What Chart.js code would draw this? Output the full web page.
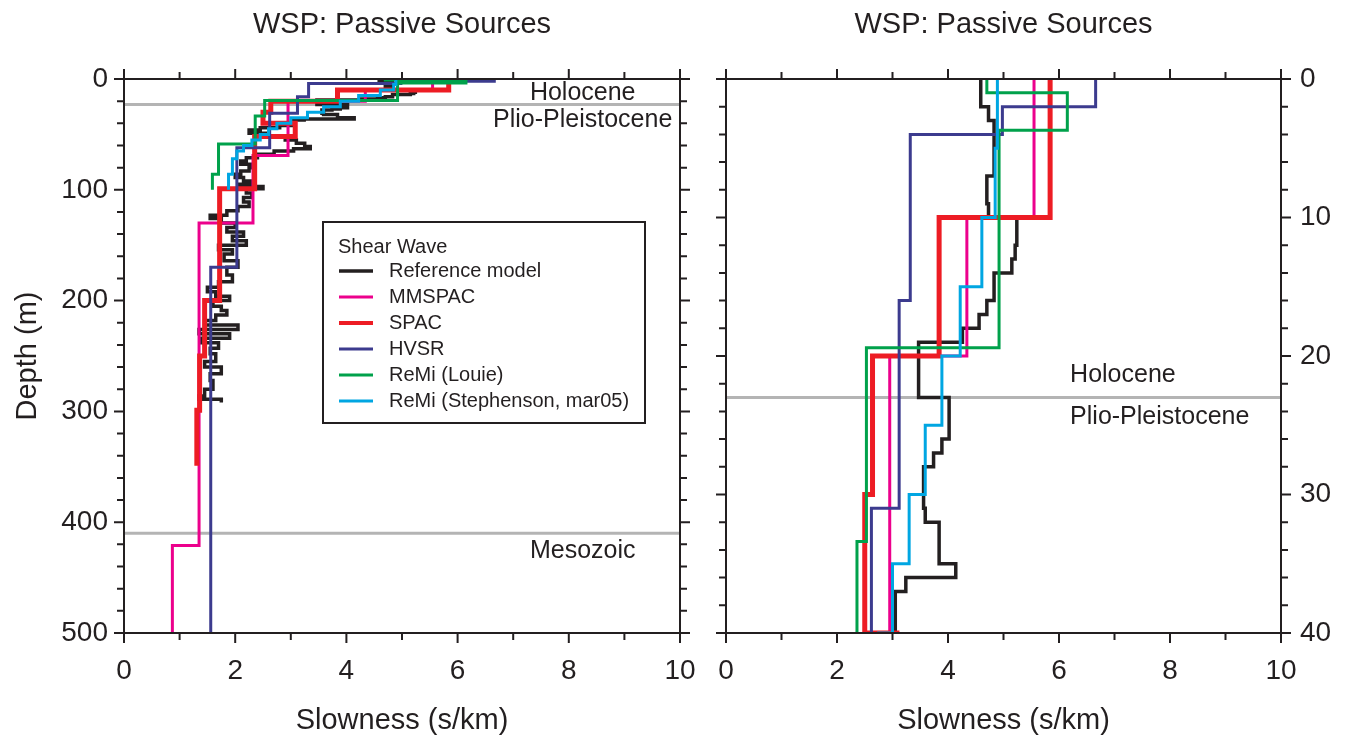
<!DOCTYPE html>
<html>
<head>
<meta charset="utf-8">
<title>WSP: Passive Sources</title>
<script src="https://cdn.jsdelivr.net/npm/chart.js@4.4.0/dist/chart.umd.min.js"></script>
<style>
  html, body { margin: 0; padding: 0; background: #fff; }
  #wrap { position: relative; width: 1347px; height: 745px; overflow: hidden; }
  #leftChart { position: absolute; left: 0; top: 0; }
  #rightChart { position: absolute; left: 700px; top: 0; }
</style>
</head>
<body>
<div id="wrap">
  <canvas id="leftChart" width="700" height="745"></canvas>
  <canvas id="rightChart" width="647" height="745"></canvas>
</div>
<script>
// ===== DATA (layer top depth in m, slowness in s/km) =====
const refTop = [0, 2, 3, 7, 9, 10, 12, 13, 14, 16, 17, 18, 19, 23, 26, 27, 28, 31, 32, 35, 36, 37,
  42, 44, 46, 49, 52, 55, 58, 61, 63, 65, 68, 71, 74, 77, 80, 83, 86, 89, 92, 95, 97, 99,
  103, 107, 111, 115, 119, 123, 126, 130, 134, 138, 142, 146, 150, 154, 158, 164, 170, 177,
  183, 188, 192, 196, 200, 205, 209, 213, 218, 222, 226, 230, 234, 238, 243, 248, 255, 260,
  266, 272, 280, 286, 289];
const refSlow = [4.59, 4.73, 4.83, 4.70, 4.73, 5.24, 5.21, 5.15, 4.83, 4.70, 4.56, 4.26, 3.47, 4.02, 3.89, 3.74, 3.56, 3.59, 3.84, 4.14, 3.24, 3.05,
  2.80, 2.45, 2.25, 2.55, 2.90, 3.10, 3.25, 3.35, 3.05, 2.70, 2.40, 2.20, 2.10, 2.35, 2.25, 2.10, 2.00, 2.15, 2.30, 2.05, 2.50, 2.20,
  2.30, 2.15, 2.25, 2.05, 1.85, 1.55, 1.75, 2.00, 1.85, 2.15, 1.95, 2.20, 1.70, 1.95, 1.80, 2.05, 1.85, 1.95,
  1.70, 1.50, 1.65, 1.90, 1.60, 1.75, 1.85, 1.65, 1.45, 2.05, 1.35, 1.90, 1.40, 1.70, 1.55, 1.65, 1.45, 1.75,
  1.55, 1.60, 1.45, 1.35, 1.75];
const refBottom = 292;

const mmspacTop = [0, 10, 20, 69, 130, 421];
const mmspacSlow = [5.55, 4.34, 2.95, 2.32, 1.35, 0.87];
const mmspacBottom = 500;

const spacTop = [0, 10, 20, 30, 40, 52, 99, 200, 250, 299];
const spacSlow = [5.84, 3.84, 2.64, 2.50, 3.08, 2.35, 1.72, 1.45, 1.36, 1.31];
const spacBottom = 349;

const hvsrTop = [0, 2, 4, 16, 31, 62, 170];
const hvsrSlow = [6.66, 4.98, 3.32, 3.12, 2.62, 2.03, 1.56];
const hvsrBottom = 500;

const louieTop = [0, 1, 3.7, 19.4, 33.4, 58.6, 86];
const louieSlow = [4.70, 6.15, 4.92, 2.53, 2.36, 1.70, 1.59];
const louieBottom = 100;

const stephTop = [0, 5, 10, 15, 20, 25, 30, 35, 40, 45, 50, 55, 60, 65, 72, 86];
const stephSlow = [4.89, 4.85, 4.61, 4.22, 3.89, 3.59, 3.30, 3.00, 2.75, 2.60, 2.45, 2.30, 2.15, 2.03, 1.95, 1.88];
const stephBottom = 100;

const boundaryDepths = [23, 410];

const xTicks = [0, 2, 4, 6, 8, 10];
const leftDepthTicks = [0, 100, 200, 300, 400, 500];
const rightDepthTicks = [0, 10, 20, 30, 40];

// ===== STYLE =====
const INK = '#231f20';
const FONT = "'Liberation Sans', Arial, Helvetica, sans-serif";
Chart.defaults.font.family = FONT;
Chart.defaults.color = INK;

// ===== HELPERS =====
function stepProfile(tops, slows, bottom) {
  const pts = [];
  tops.forEach((top, i) => {
    const base = i < tops.length - 1 ? tops[i + 1] : bottom;
    pts.push({ x: slows[i], y: top });
    pts.push({ x: slows[i], y: base });
  });
  return pts;
}

function makeDatasets() {
  const series = [
    { label: 'Reference model', tops: refTop, slows: refSlow, bottom: refBottom, color: '#231f20', width: 3.5, order: 6 },
    { label: 'MMSPAC', tops: mmspacTop, slows: mmspacSlow, bottom: mmspacBottom, color: '#ec008c', width: 3, order: 5 },
    { label: 'SPAC', tops: spacTop, slows: spacSlow, bottom: spacBottom, color: '#ed1c24', width: 5, order: 4 },
    { label: 'HVSR', tops: hvsrTop, slows: hvsrSlow, bottom: hvsrBottom, color: '#3c3b8e', width: 3, order: 3 },
    { label: 'ReMi (Louie)', tops: louieTop, slows: louieSlow, bottom: louieBottom, color: '#00a14b', width: 3, order: 2 },
    { label: 'ReMi (Stephenson, mar05)', tops: stephTop, slows: stephSlow, bottom: stephBottom, color: '#00a6e2', width: 3, order: 1 }
  ];
  const sets = series.map(s => ({
    label: s.label,
    data: stepProfile(s.tops, s.slows, s.bottom),
    borderColor: s.color,
    backgroundColor: s.color,
    borderWidth: s.width,
    pointRadius: 0,
    showLine: true,
    fill: false,
    tension: 0,
    order: s.order,
    inLegend: true
  }));
  // geologic boundaries
  boundaryDepths.forEach(d => {
    sets.push({
      label: 'boundary',
      data: [{ x: xTicks[0], y: d }, { x: xTicks[xTicks.length - 1], y: d }],
      borderColor: '#b4b4b4',
      borderWidth: 3,
      pointRadius: 0,
      showLine: true,
      order: 10
    });
  });
  return sets;
}

// ===== PLUGINS =====
const frameTicks = {
  id: 'frameTicks',
  afterDraw(chart, args, opts) {
    const { ctx, chartArea: a } = chart;
    const x = chart.scales.x, y = chart.scales.y;
    const isMajor = (v, step) => Math.abs(v / step - Math.round(v / step)) < 1e-6;
    ctx.save();
    ctx.strokeStyle = INK;
    ctx.lineWidth = 2;
    ctx.strokeRect(a.left, a.top, a.right - a.left, a.bottom - a.top);
    ctx.beginPath();
    for (let v = x.min; v <= x.max + 1e-9; v += opts.xMinor) {
      const len = isMajor(v, opts.xMajor) ? 10 : 7;
      const px = x.getPixelForValue(v);
      ctx.moveTo(px, a.bottom); ctx.lineTo(px, a.bottom + len);
      ctx.moveTo(px, a.top); ctx.lineTo(px, a.top - len);
    }
    for (let v = y.min; v <= y.max + 1e-9; v += opts.yMinor) {
      const len = isMajor(v, opts.yMajor) ? 10 : 7;
      const py = y.getPixelForValue(v);
      ctx.moveTo(a.left, py); ctx.lineTo(a.left - len, py);
      ctx.moveTo(a.right, py); ctx.lineTo(a.right + len, py);
    }
    ctx.stroke();
    ctx.restore();
  }
};

const panelTitle = {
  id: 'panelTitle',
  afterDraw(chart, args, opts) {
    const { ctx, chartArea: a } = chart;
    ctx.save();
    ctx.fillStyle = INK;
    ctx.font = `29px ${FONT}`;
    ctx.textAlign = 'center';
    ctx.textBaseline = 'middle';
    ctx.fillText(opts.text, (a.left + a.right) / 2, opts.y);
    ctx.restore();
  }
};

const unitLabels = {
  id: 'unitLabels',
  afterDraw(chart, args, opts) {
    const { ctx } = chart;
    const x = chart.scales.x, y = chart.scales.y;
    ctx.save();
    ctx.fillStyle = INK;
    ctx.font = `25px ${FONT}`;
    ctx.textBaseline = 'middle';
    (opts.items || []).forEach(it => {
      ctx.textAlign = it.align;
      ctx.fillText(it.text, x.getPixelForValue(it.x), y.getPixelForValue(it.y) + it.dy);
    });
    ctx.restore();
  }
};

const legendBox = {
  id: 'legendBox',
  afterDraw(chart, args, opts) {
    if (!opts.show) return;
    const { ctx, chartArea: a } = chart;
    const bx = a.left + opts.x, by = a.top + opts.y;
    ctx.save();
    ctx.fillStyle = '#fff';
    ctx.fillRect(bx, by, opts.width, opts.height);
    ctx.strokeStyle = INK;
    ctx.lineWidth = 2;
    ctx.strokeRect(bx, by, opts.width, opts.height);
    ctx.fillStyle = INK;
    ctx.font = `20px ${FONT}`;
    ctx.textAlign = 'left';
    ctx.textBaseline = 'middle';
    ctx.fillText(opts.title, bx + 15, by + 25);
    const items = chart.data.datasets.filter(ds => ds.inLegend);
    items.forEach((ds, i) => {
      const cy = by + 49 + i * 26;
      ctx.strokeStyle = ds.borderColor;
      ctx.lineWidth = Math.min(ds.borderWidth, 4);
      ctx.beginPath();
      ctx.moveTo(bx + 16, cy);
      ctx.lineTo(bx + 50, cy);
      ctx.stroke();
      ctx.fillStyle = INK;
      ctx.fillText(ds.label, bx + 66, cy);
    });
    ctx.restore();
  }
};

// ===== SCALES =====
function xScale() {
  return {
    type: 'linear',
    min: xTicks[0],
    max: xTicks[xTicks.length - 1],
    afterBuildTicks: (s) => { s.ticks = xTicks.map(v => ({ value: v })); },
    ticks: { padding: 11, color: INK, font: { size: 28 } },
    grid: { display: true, drawOnChartArea: false, color: 'rgba(0,0,0,0)', tickLength: 10 },
    border: { display: false },
    title: { display: true, text: 'Slowness (s/km)', color: INK, font: { size: 29 }, padding: { top: 0, bottom: 7 } },
    afterFit: (s) => {
      s.height = 112;
      // edge labels may overhang; keep the plot box where it belongs
      s.paddingLeft = 0;
      s.paddingRight = 0;
    }
  };
}

function yScale(ticks, position, width, title) {
  return {
    type: 'linear',
    position: position,
    reverse: true,
    min: ticks[0],
    max: ticks[ticks.length - 1],
    afterBuildTicks: (s) => { s.ticks = ticks.map(v => ({ value: v })); },
    ticks: { padding: position === 'left' ? 6 : 9, color: INK, font: { size: 28 } },
    grid: { display: true, drawOnChartArea: false, color: 'rgba(0,0,0,0)', tickLength: 10 },
    border: { display: false },
    title: { display: !!title, text: title || '', color: INK, font: { size: 29 }, padding: { top: 11, bottom: 0 } },
    afterFit: (s) => { s.width = width; }
  };
}

// ===== CHARTS =====
const plugins = [frameTicks, panelTitle, unitLabels, legendBox];

new Chart(document.getElementById('leftChart'), {
  type: 'scatter',
  data: { datasets: makeDatasets() },
  plugins: plugins,
  options: {
    responsive: false,
    animation: false,
    layout: { padding: { top: 79, right: 20, left: 0, bottom: 0 } },
    scales: { x: xScale(), y: yScale(leftDepthTicks, 'left', 124, 'Depth (m)') },
    plugins: {
      legend: { display: false },
      tooltip: { enabled: false },
      frameTicks: { xMinor: 1, xMajor: 2, yMinor: 20, yMajor: 100 },
      panelTitle: { text: 'WSP: Passive Sources', y: 25 },
      unitLabels: {
        items: [
          { text: 'Holocene', x: 8.25, y: boundaryDepths[0], dy: -11, align: 'center' },
          { text: 'Plio-Pleistocene', x: 8.25, y: boundaryDepths[0], dy: 16, align: 'center' },
          { text: 'Mesozoic', x: 8.25, y: boundaryDepths[1], dy: 18, align: 'center' }
        ]
      },
      legendBox: { show: true, title: 'Shear Wave', x: 199, y: 143, width: 322, height: 201 }
    }
  }
});

new Chart(document.getElementById('rightChart'), {
  type: 'scatter',
  data: { datasets: makeDatasets() },
  plugins: plugins,
  options: {
    responsive: false,
    animation: false,
    layout: { padding: { top: 79, right: 0, left: 26, bottom: 0 } },
    scales: { x: xScale(), y: yScale(rightDepthTicks, 'right', 66, null) },
    plugins: {
      legend: { display: false },
      tooltip: { enabled: false },
      frameTicks: { xMinor: 1, xMajor: 2, yMinor: 2, yMajor: 10 },
      panelTitle: { text: 'WSP: Passive Sources', y: 25 },
      unitLabels: {
        items: [
          { text: 'Holocene', x: 6.2, y: boundaryDepths[0], dy: -22, align: 'left' },
          { text: 'Plio-Pleistocene', x: 6.2, y: boundaryDepths[0], dy: 20, align: 'left' }
        ]
      },
      legendBox: { show: false }
    }
  }
});
</script>
</body>
</html>
